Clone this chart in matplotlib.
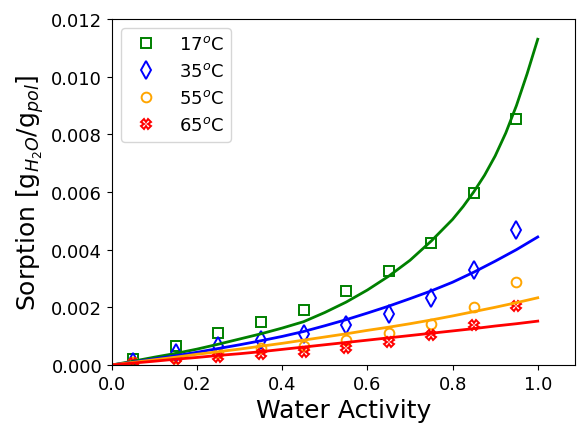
import matplotlib
matplotlib.use("Agg")
import matplotlib.pyplot as plt

# Measured sorption (water activity vs g_H2O/g_pol)
aw = [0.05, 0.15, 0.25, 0.35, 0.45, 0.55, 0.65, 0.75, 0.85, 0.95]
s17 = [0.0002, 0.00067, 0.0011, 0.0015, 0.00192, 0.00255, 0.00325, 0.00424, 0.00595, 0.00853]
s35 = [0.0001, 0.00042, 0.00067, 0.00087, 0.00108, 0.00137, 0.00177, 0.00233, 0.00328, 0.00467]
s55 = [0.0001, 0.00025, 0.0004, 0.00058, 0.00065, 0.00088, 0.00111, 0.00143, 0.00201, 0.00288]
s65 = [0.00005, 0.0002, 0.00027, 0.00037, 0.00044, 0.0006, 0.00079, 0.00105, 0.0014, 0.00203]

# Model curves
aw_fit17 = [0.0, 0.05, 0.1, 0.15, 0.2, 0.25, 0.3, 0.35, 0.4, 0.45, 0.5, 0.55, 0.6, 0.65,
            0.7, 0.75, 0.8, 0.825, 0.85, 0.875, 0.9, 0.925, 0.95, 0.975, 1.0]
fit17 = [0, 0.00013, 0.00027, 0.0004, 0.00055, 0.00072, 0.0009, 0.00108, 0.00128, 0.0015, 0.00182,
         0.00218, 0.0026, 0.00308, 0.00363, 0.0043, 0.00505, 0.0055, 0.00601, 0.00658, 0.00725,
         0.00805, 0.00900, 0.0101, 0.0113]

aw_fit = [0.0, 0.05, 0.1, 0.15, 0.2, 0.25, 0.3, 0.35, 0.4, 0.45, 0.5,
          0.55, 0.6, 0.65, 0.7, 0.75, 0.8, 0.85, 0.9, 0.95, 1.0]
fit35 = [0, 0.0001, 0.00021, 0.00032, 0.00044, 0.00057, 0.0007, 0.00084, 0.00099, 0.00116, 0.00136,
         0.00157, 0.0018, 0.00204, 0.0023, 0.00257, 0.00287, 0.00322, 0.0036, 0.004, 0.00444]
fit55 = [0, 0.00009, 0.00018, 0.00027, 0.00037, 0.00046, 0.00055, 0.00065, 0.00075, 0.00086, 0.00097,
         0.00108, 0.0012, 0.00131, 0.00143, 0.00156, 0.0017, 0.00185, 0.002, 0.00216, 0.00233]
fit65 = [0, 0.000065, 0.00013, 0.0002, 0.00026, 0.00033, 0.00039, 0.00046, 0.00054, 0.00062, 0.0007,
         0.00078, 0.00086, 0.00094, 0.00102, 0.0011, 0.00118, 0.00126, 0.00135, 0.00143, 0.00152]

labels = [r'17$^o$C', r'35$^o$C', r'55$^o$C', r'65$^o$C']

fig = plt.figure(figsize=(5.8, 4.27), dpi=100)
ax = fig.add_axes([0.193, 0.143, 0.798, 0.810])

# Data points
ax.plot(aw, s17, 's', color='green', mfc='none', ms=6.5, mew=1.4, ls='none', label=labels[0])
ax.plot(aw, s35, 'd', color='blue', mfc='none', ms=9, mew=1.4, ls='none', label=labels[1])
ax.plot(aw, s55, 'o', color='orange', mfc='none', ms=7, mew=1.4, ls='none', label=labels[2])
ax.plot(aw, s65, 'X', color='red', mfc='none', ms=7, mew=1.4, ls='none', label=labels[3])

# Fitted curves
ax.plot(aw_fit17, fit17, '-', color='green', lw=2)
ax.plot(aw_fit, fit35, '-', color='blue', lw=2)
ax.plot(aw_fit, fit55, '-', color='orange', lw=2)
ax.plot(aw_fit, fit65, '-', color='red', lw=2)

ax.set_xlim(0, 1.087)
ax.set_ylim(0, 0.012)
ax.set_xticks([0.0, 0.2, 0.4, 0.6, 0.8, 1.0])
ax.tick_params(labelsize=13)
ax.set_xlabel('Water Activity', fontsize=18)
ax.set_ylabel(r'Sorption [g$_{H_2O}$/g$_{pol}$]', fontsize=18)
ax.legend(loc='upper left', fontsize=13)

fig.savefig('out.png', dpi=100)
